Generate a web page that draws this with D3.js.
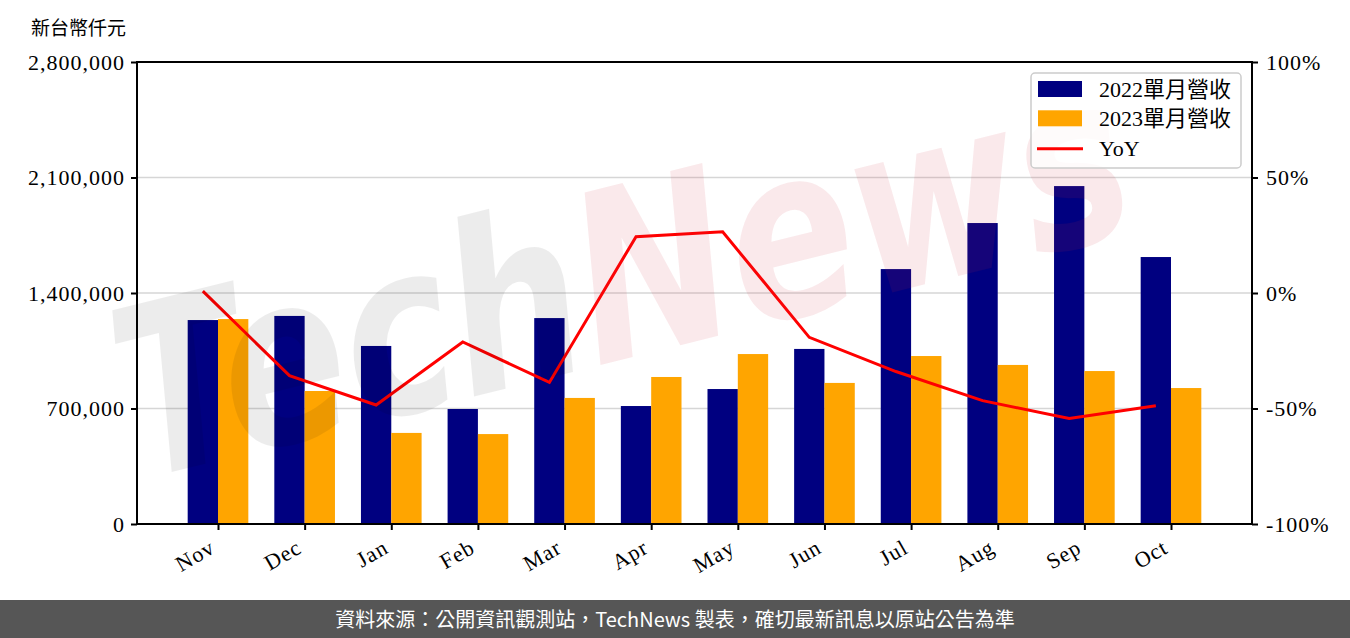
<!DOCTYPE html>
<html><head><meta charset="utf-8">
<script src="https://cdn.jsdelivr.net/npm/d3@7"></script>
<style>
html,body{margin:0;padding:0;background:#fff;}
svg{display:block;}
</style></head>
<body>
<svg id="chart" width="1350" height="638"></svg>
<script>
const months = ["Nov","Dec","Jan","Feb","Mar","Apr","May","Jun","Jul","Aug","Sep","Oct"];
const rev2022 = [1236000,1261000,1079000,697000,1248000,715000,818000,1061000,1545000,1824000,2048000,1618000];
const rev2023 = [1242000,806000,552000,545000,764000,891000,1030000,855000,1018000,964000,927000,824000];
const yoy = [0.8,-35.8,-48.5,-21.2,-38.7,24.4,26.5,-19.2,-34.0,-46.6,-54.3,-48.8];
const leftTicks = [0,700000,1400000,2100000,2800000];
const rightTicks = [-100,-50,0,50,100];
const seriesNames = ["2022單月營收","2023單月營收","YoY"];
const unitLabel = "新台幣仟元";
const footerText = "資料來源：公開資訊觀測站，TechNews 製表，確切最新訊息以原站公告為準";

const svg = d3.select("#chart");
const L = 137, R = 1252, T = 62, B = 524;
const serif = "'Liberation Serif','Noto Sans CJK TC',serif";
const barW = 0.35;

const x = d3.scaleLinear().domain([-0.935, 11.935]).range([L, R]);
const y = d3.scaleLinear().domain([0, 2800000]).range([B, T]);
const y2 = d3.scaleLinear().domain([-100, 100]).range([B, T]);

// gridlines
svg.append("g").selectAll("line").data(leftTicks.slice(1,-1)).join("line")
  .attr("x1", L).attr("x2", R).attr("y1", d=>y(d)).attr("y2", d=>y(d))
  .attr("stroke", "#d6d6d6").attr("stroke-width", 1.6);

// bars
svg.append("g").selectAll("rect").data(rev2022).join("rect")
  .attr("x", (d,i)=>x(i-barW)).attr("width", (d,i)=>x(i)-x(i-barW))
  .attr("y", d=>y(d)).attr("height", d=>B-y(d)).attr("fill", "#000080");
svg.append("g").selectAll("rect").data(rev2023).join("rect")
  .attr("x", (d,i)=>x(i)).attr("width", (d,i)=>x(i+barW)-x(i))
  .attr("y", d=>y(d)).attr("height", d=>B-y(d)).attr("fill", "#FFA500");

// YoY line
const line = d3.line().x((d,i)=>x(i-barW/2)).y(d=>y2(d));
svg.append("path").datum(yoy).attr("d", line)
  .attr("fill","none").attr("stroke","#FF0000").attr("stroke-width",3).attr("stroke-linejoin","miter");

// watermark
const wm = svg.append("text").attr("transform","translate(140,480) rotate(-14) scale(0.79,1)")
  .attr("font-family","'DejaVu Sans',sans-serif").attr("font-style","italic").attr("font-weight","bold")
  .attr("font-size",235);
wm.append("tspan").attr("fill","#000").attr("fill-opacity",0.075).text("Tech");
wm.append("tspan").attr("fill","#d22a3a").attr("fill-opacity",0.1).text("News");

// axes
const yAxisL = d3.axisLeft(y).tickValues(leftTicks).tickFormat(d3.format(",")).tickSize(6).tickPadding(6);
const yAxisR = d3.axisRight(y2).tickValues(rightTicks).tickFormat(d=>d+"%").tickSize(6).tickPadding(8);
const xAxis = d3.axisBottom(x).tickValues(d3.range(months.length)).tickFormat(i=>months[i]).tickSize(6).tickPadding(4);

const gl = svg.append("g").attr("transform",`translate(${L},0)`).call(yAxisL);
const gr = svg.append("g").attr("transform",`translate(${R},0)`).call(yAxisR);
const gx = svg.append("g").attr("transform",`translate(0,${B})`).call(xAxis);
[gl,gr,gx].forEach(g=>{
  g.select(".domain").remove();
  g.selectAll(".tick line").attr("stroke","#000").attr("stroke-width",2);
  g.selectAll("text").attr("font-family",serif).attr("font-size",22).attr("letter-spacing",1).attr("fill","#000");
});
gx.selectAll(".tick text").attr("text-anchor","end").attr("dy",null)
  .attr("transform","translate(-10,14) rotate(-30)").attr("y",0).attr("dominant-baseline","hanging");

// frame
svg.append("rect").attr("x",L).attr("y",T).attr("width",R-L).attr("height",B-T)
  .attr("fill","none").attr("stroke","#000").attr("stroke-width",2);

// unit label
svg.append("text").attr("x",31).attr("y",35).attr("font-family","'Noto Sans CJK TC',sans-serif")
  .attr("font-size",19).attr("fill","#000").text(unitLabel);

// legend
const lg = svg.append("g");
lg.append("rect").attr("x",1031).attr("y",73).attr("width",210).attr("height",95).attr("rx",4)
  .attr("fill","#fff").attr("fill-opacity",0.8).attr("stroke","#cccccc").attr("stroke-width",1.5);
const lgColors = ["#000080","#FFA500"];
[0,1].forEach(i=>{
  lg.append("rect").attr("x",1038).attr("y",81+i*29.3).attr("width",44).attr("height",16).attr("fill",lgColors[i]);
});
lg.append("line").attr("x1",1037).attr("x2",1083).attr("y1",148.7).attr("y2",148.7).attr("stroke","#FF0000").attr("stroke-width",3);
seriesNames.forEach((s,i)=>{
  lg.append("text").attr("x",1099).attr("y",97+i*29.3).attr("font-family",serif).attr("font-size",22).attr("fill","#000").text(s);
});

// footer
svg.append("rect").attr("x",0).attr("y",600).attr("width",1350).attr("height",38).attr("fill","#565656");
svg.append("text").attr("x",675).attr("y",627).attr("text-anchor","middle")
  .attr("font-family","'Noto Sans CJK TC',sans-serif").attr("font-size",20).attr("fill","#fff").text(footerText);
</script>
</body></html>
